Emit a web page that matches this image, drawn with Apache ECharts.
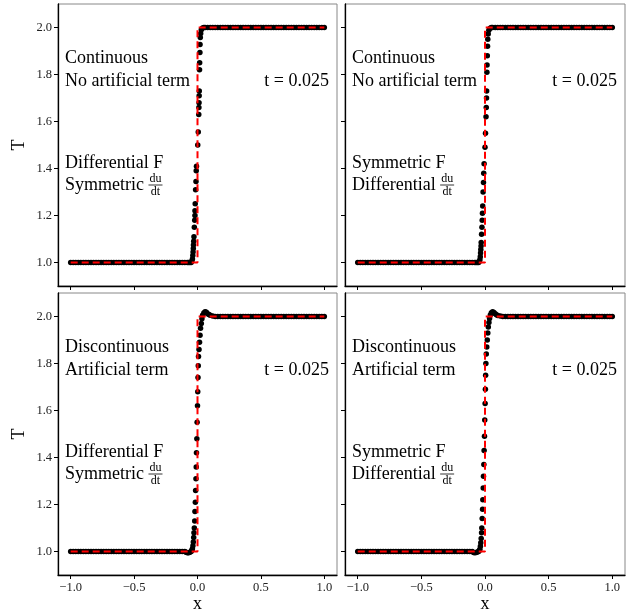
<!DOCTYPE html>
<html>
<head>
<meta charset="utf-8">
<script src="https://cdn.jsdelivr.net/npm/echarts@6/dist/echarts.min.js"></script>
<style>
  html, body { margin: 0; padding: 0; background: #fff; }
  #main { width: 641px; height: 614px; }
</style>
</head>
<body>
<div id="main"></div>
<script>
// tick labels
var xTicks = [-1.0, -0.5, 0.0, 0.5, 1.0];
var tTicks = [1.0, 1.2, 1.4, 1.6, 1.8, 2.0];

// exact step solution (red dashed)
var exactX = [-1.0, 0.0, 0.0, 1.0];
var exactT = [1.0, 1.0, 2.0, 2.0];

// particle positions on the two flat states
var lowT = 1.0;
var highT = 2.0;
var lowX = [-1.00, -0.98, -0.96, -0.94, -0.92, -0.90, -0.88, -0.86, -0.84, -0.82,
            -0.80, -0.78, -0.76, -0.74, -0.72, -0.70, -0.68, -0.66, -0.64, -0.62,
            -0.60, -0.58, -0.56, -0.54, -0.52, -0.50, -0.48, -0.46, -0.44, -0.42,
            -0.40, -0.38, -0.36, -0.34, -0.32, -0.30, -0.28, -0.26, -0.24, -0.22,
            -0.20, -0.18, -0.16, -0.14, -0.12, -0.10];
var highX = [0.14, 0.16, 0.18, 0.20, 0.22, 0.24, 0.26, 0.28, 0.30, 0.32,
             0.34, 0.36, 0.38, 0.40, 0.42, 0.44, 0.46, 0.48, 0.50, 0.52,
             0.54, 0.56, 0.58, 0.60, 0.62, 0.64, 0.66, 0.68, 0.70, 0.72,
             0.74, 0.76, 0.78, 0.80, 0.82, 0.84, 0.86, 0.88, 0.90, 0.92,
             0.94, 0.96, 0.98, 1.00];

// particles through the shock, one list per panel
var shockA = [[-0.08, 1.0], [-0.07, 1.0], [-0.06, 1.0], [-0.05, 1.0], [-0.045, 1.005], [-0.04, 1.015],
              [-0.037, 1.03], [-0.035, 1.045], [-0.033, 1.06], [-0.032, 1.075], [-0.03, 1.09],
              [-0.028, 1.11], [-0.025, 1.15], [-0.022, 1.18], [-0.02, 1.20], [-0.02, 1.22],
              [-0.018, 1.25], [-0.015, 1.31], [-0.012, 1.345], [-0.01, 1.39], [-0.008, 1.41],
              [0.002, 1.50], [0.006, 1.555], [0.01, 1.63], [0.011, 1.66], [0.012, 1.68],
              [0.013, 1.71], [0.014, 1.73], [0.016, 1.82], [0.017, 1.85], [0.019, 1.894],
              [0.02, 1.928], [0.022, 1.957], [0.025, 1.975], [0.03, 1.99], [0.04, 1.998],
              [0.05, 2.0], [0.06, 2.0], [0.08, 2.0], [0.10, 2.0], [0.12, 2.0]];
var shockB = [[-0.08, 1.0], [-0.07, 1.0], [-0.06, 1.0], [-0.05, 1.0], [-0.045, 1.004], [-0.04, 1.012],
              [-0.037, 1.025], [-0.035, 1.04], [-0.033, 1.055], [-0.031, 1.07], [-0.03, 1.085],
              [-0.027, 1.12], [-0.024, 1.15], [-0.022, 1.18], [-0.02, 1.21], [-0.018, 1.24],
              [-0.015, 1.30], [-0.012, 1.34], [-0.01, 1.38], [-0.007, 1.42], [0.0, 1.49],
              [0.004, 1.55], [0.008, 1.62], [0.01, 1.66], [0.012, 1.70], [0.013, 1.73],
              [0.015, 1.81], [0.016, 1.84], [0.018, 1.88], [0.02, 1.92], [0.022, 1.95],
              [0.025, 1.972], [0.03, 1.988], [0.04, 1.997], [0.05, 2.0], [0.06, 2.0],
              [0.08, 2.0], [0.10, 2.0], [0.12, 2.0]];
var shockC = [[-0.09, 0.997], [-0.08, 0.995], [-0.07, 0.995], [-0.06, 0.997], [-0.05, 1.0],
              [-0.045, 1.005], [-0.04, 1.012], [-0.036, 1.025], [-0.033, 1.04], [-0.03, 1.06],
              [-0.028, 1.08], [-0.025, 1.10], [-0.022, 1.13], [-0.02, 1.17], [-0.017, 1.21],
              [-0.015, 1.26], [-0.012, 1.31], [-0.01, 1.36], [-0.008, 1.42], [-0.005, 1.48],
              [-0.003, 1.55], [0.0, 1.62], [0.002, 1.68], [0.004, 1.74], [0.006, 1.79],
              [0.008, 1.83], [0.012, 1.86], [0.016, 1.89], [0.02, 1.92], [0.024, 1.95],
              [0.03, 1.97], [0.035, 1.99], [0.04, 2.005], [0.05, 2.015], [0.06, 2.02],
              [0.07, 2.018], [0.08, 2.012], [0.09, 2.008], [0.10, 2.005], [0.12, 2.002]];
var shockD = [[-0.09, 0.996], [-0.08, 0.995], [-0.07, 0.996], [-0.06, 0.998], [-0.05, 1.0],
              [-0.045, 1.004], [-0.04, 1.01], [-0.036, 1.022], [-0.033, 1.037], [-0.03, 1.055],
              [-0.027, 1.08], [-0.025, 1.10], [-0.022, 1.14], [-0.019, 1.18], [-0.017, 1.22],
              [-0.014, 1.27], [-0.012, 1.32], [-0.009, 1.37], [-0.007, 1.43], [-0.004, 1.49],
              [-0.002, 1.56], [0.001, 1.63], [0.003, 1.69], [0.005, 1.75], [0.007, 1.80],
              [0.01, 1.84], [0.014, 1.87], [0.018, 1.90], [0.022, 1.93], [0.026, 1.955],
              [0.031, 1.975], [0.036, 1.992], [0.042, 2.006], [0.05, 2.016], [0.06, 2.02],
              [0.07, 2.017], [0.08, 2.012], [0.09, 2.007], [0.10, 2.004], [0.12, 2.002]];

var shocks = [shockA, shockB, shockC, shockD];
var line1 = ['Continuous', 'Continuous', 'Discontinuous', 'Discontinuous'];
var line2 = ['No artificial term', 'No artificial term', 'Artificial term', 'Artificial term'];
var line3 = ['Differential F', 'Symmetric F', 'Differential F', 'Symmetric F'];
var line4 = ['Symmetric', 'Differential', 'Symmetric', 'Differential'];
var timeLabel = 't = 0.025';

var serif = '"Liberation Serif", "Times New Roman", serif';
var myChart = echarts.init(document.getElementById('main'));

// panel boxes
var boxes = [
    {left: 58, top: 4, width: 279, height: 282},
    {left: 345, top: 4, width: 280, height: 282},
    {left: 58, top: 293, width: 279, height: 282},
    {left: 345, top: 293, width: 280, height: 282}
];

function fmt(v) {
    var s = Math.abs(v).toFixed(1);
    return v < -1e-9 ? '\u2212' + s : s;
}

var measure = document.createElement('canvas').getContext('2d');
measure.font = '18px ' + serif;

var grids = [], xAxes = [], yAxes = [], series = [], graphics = [];

boxes.forEach(function (b, i) {
    var isLeft = (i % 2 === 0);
    var isBottom = (i >= 2);
    grids.push({
        left: b.left, top: b.top, width: b.width, height: b.height,
        show: true, borderColor: '#888', borderWidth: 1, backgroundColor: 'transparent'
    });
    xAxes.push({
        gridIndex: i, type: 'value', min: -1.1, max: 1.1,
        axisLine: {show: true, onZero: false, lineStyle: {color: '#000', width: 1.3}},
        axisTick: {show: true, customValues: xTicks, length: 4, lineStyle: {color: '#000'}},
        axisLabel: {show: isBottom, customValues: xTicks, formatter: fmt,
                    fontFamily: serif, fontSize: 12.5, color: '#222', margin: 6},
        splitLine: {show: false},
        name: isBottom ? 'x' : '', nameLocation: 'middle', nameGap: 19,
        nameTextStyle: {fontFamily: serif, fontSize: 18, color: '#000'}
    });
    yAxes.push({
        gridIndex: i, type: 'value', min: 0.9, max: 2.1,
        axisLine: {show: true, onZero: false, lineStyle: {color: '#000', width: 1.3}},
        axisTick: {show: true, customValues: tTicks, length: 4, lineStyle: {color: '#000'}},
        axisLabel: {show: isLeft, customValues: tTicks, formatter: fmt,
                    fontFamily: serif, fontSize: 12.5, color: '#222', margin: 6},
        splitLine: {show: false},
        name: isLeft ? 'T' : '', nameLocation: 'middle', nameGap: 30,
        nameTextStyle: {fontFamily: serif, fontSize: 18, color: '#000'}
    });

    var pts = lowX.map(function (x) { return [x, lowT]; })
        .concat(shocks[i])
        .concat(highX.map(function (x) { return [x, highT]; }));
    series.push({
        type: 'scatter', xAxisIndex: i, yAxisIndex: i,
        data: pts, symbolSize: 5.5,
        itemStyle: {color: '#000', opacity: 1}, z: 2
    });
    series.push({
        type: 'line', xAxisIndex: i, yAxisIndex: i,
        data: exactX.map(function (x, k) { return [x, exactT[k]]; }),
        showSymbol: false, symbol: 'none',
        lineStyle: {color: '#ff0000', width: 2, type: [7, 4]}, z: 3
    });

    // annotations
    var tx = b.left + 7;
    function txt(s, x, y, align) {
        graphics.push({
            type: 'text', x: x, y: y, z: 10,
            style: {text: s, fill: '#000', font: '18px ' + serif, align: align || 'left', verticalAlign: 'middle'}
        });
    }
    txt(line1[i], tx, b.top + 54);
    txt(line2[i], tx, b.top + 77);
    txt(timeLabel, b.left + b.width - 8, b.top + 77, 'right');
    txt(line3[i], tx, b.top + 159);
    txt(line4[i], tx, b.top + 181);
    // du/dt fraction
    var fx = tx + measure.measureText(line4[i] + ' ').width;
    var fy = b.top + 181;
    graphics.push({
        type: 'text', x: fx + 7, y: fy - 6, z: 10,
        style: {text: 'du', fill: '#000', font: '12px ' + serif, align: 'center', verticalAlign: 'middle'}
    });
    graphics.push({
        type: 'line', z: 10,
        shape: {x1: fx, y1: fy, x2: fx + 14, y2: fy},
        style: {stroke: '#000', lineWidth: 0.8}
    });
    graphics.push({
        type: 'text', x: fx + 7, y: fy + 7, z: 10,
        style: {text: 'dt', fill: '#000', font: '12px ' + serif, align: 'center', verticalAlign: 'middle'}
    });
});

var option = {
    animation: false,
    backgroundColor: '#fff',
    grid: grids,
    xAxis: xAxes,
    yAxis: yAxes,
    series: series,
    graphic: graphics
};
myChart.setOption(option);
</script>
</body>
</html>
